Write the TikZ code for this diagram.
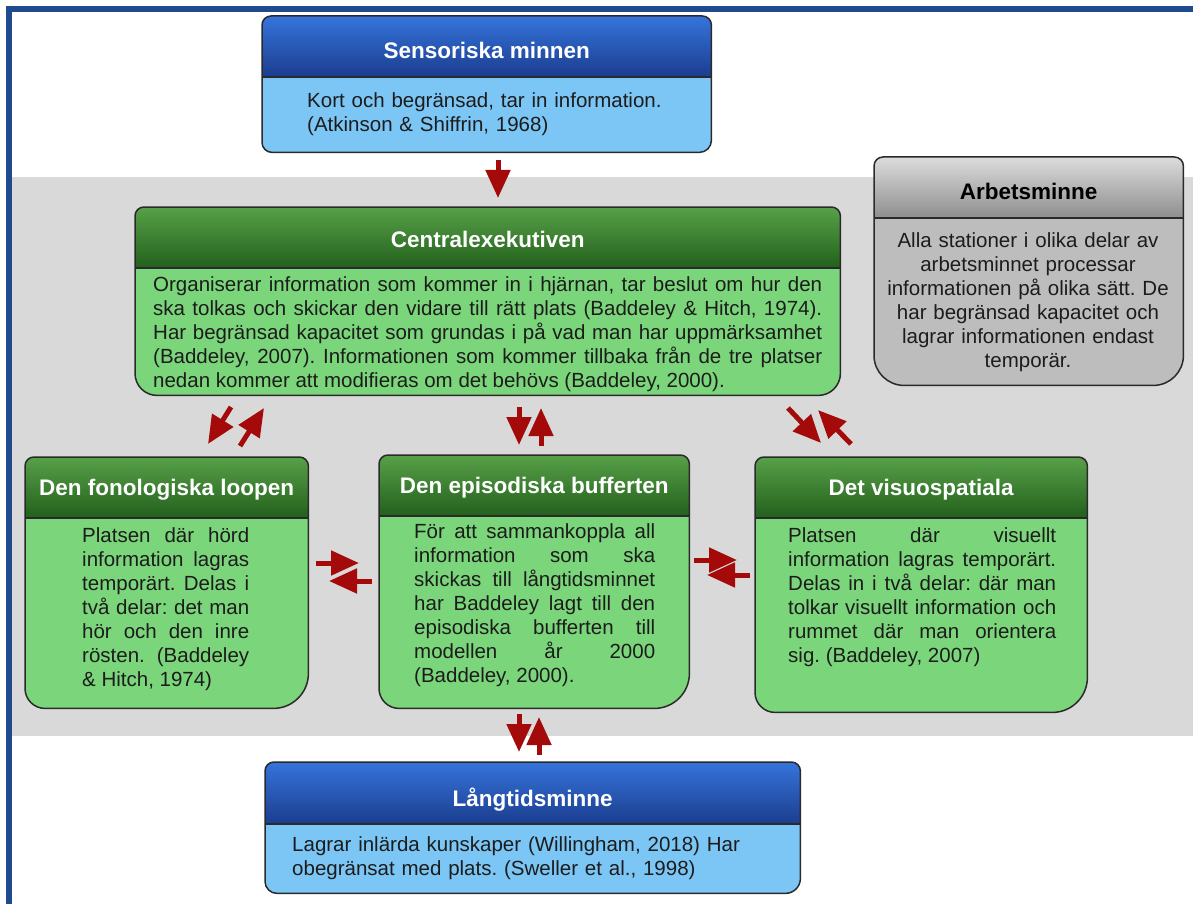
\documentclass[tikz,border=0pt]{standalone}
\usepackage{fontspec}
\setmainfont{Liberation Sans}
\usetikzlibrary{arrows.meta}
\setlength{\parindent}{0pt}
\frenchspacing

\definecolor{frameblue}{HTML}{1F4B8E}
\definecolor{bandgray}{HTML}{D9D9D9}
\definecolor{arrowred}{HTML}{A50A0A}
\definecolor{textdark}{HTML}{1C1C1C}
\definecolor{linedark}{HTML}{2A2A2A}
\definecolor{bluebodyc}{HTML}{7CC6F6}
\definecolor{blueheadtop}{HTML}{3574DC}
\definecolor{blueheadbot}{HTML}{1B3D8E}
\definecolor{greenbodyc}{HTML}{7BD67B}
\definecolor{greenheadtop}{HTML}{58A048}
\definecolor{greenheadbot}{HTML}{22601C}
\definecolor{graybodyc}{HTML}{BDBDBD}
\definecolor{grayheadtop}{HTML}{DCDCDC}
\definecolor{grayheadbot}{HTML}{8E8E8E}

\tikzset{
  memarea/.style={rectangle, inner sep=0pt, anchor=north west},
  boxtitle/.style={anchor=base, inner sep=0pt, text=white,
    font=\fontsize{22.5}{26}\selectfont\bfseries},
  boxtext/.style={anchor=north west, inner sep=0pt, text=textdark,
    font=\fontsize{20.5}{24}\selectfont},
  boxline/.style={draw=linedark, line width=1.5pt},
  bluebody/.style={fill=bluebodyc},
  bluehead/.style={top color=blueheadtop, bottom color=blueheadbot},
  greenbody/.style={fill=greenbodyc},
  greenhead/.style={top color=greenheadtop, bottom color=greenheadbot},
  graybody/.style={fill=graybodyc},
  grayhead/.style={top color=grayheadtop, bottom color=grayheadbot},
  flow/.style={draw=arrowred, line width=5pt, -{Triangle[length=28pt,width=24pt]}},
}

% box: node, header height, colour set, bottom right radius, bottom left radius
\newcommand{\drawmembox}[5]{%
  \def\membox{(#1.north) [rounded corners=9pt] -- (#1.north east) -- (#1.east)
    [rounded corners=#4] -- (#1.south east) -- (#1.south)
    [rounded corners=#5] -- (#1.south west) -- (#1.west)
    [rounded corners=9pt] -- (#1.north west) -- cycle}%
  \fill[#3body] \membox;
  \begin{scope}
    \clip \membox;
    \shade[#3head] (#1.north west) rectangle ([yshift=-#2]#1.north east);
  \end{scope}
  \draw[boxline] ([yshift=-#2]#1.north west) -- ([yshift=-#2]#1.north east);
  \draw[boxline] \membox;
}

\begin{document}
\begin{tikzpicture}[x=1pt,y=-1pt]

  \useasboundingbox (0,0) rectangle (1193,904);
  \fill[white] (0,0) rectangle (1193,904);

  % frame and working memory band
  \fill[bandgray] (12,177) rectangle (1193,736);
  \draw[frameblue, line width=6pt] (9,904) -- (9,9) -- (1193,9);

  \begin{scope}[every node/.style={memarea}]
    \node[minimum width=449, minimum height=136] (senso)   at (262,16)  {};
    \node[minimum width=705, minimum height=188] (central) at (135,207) {};
    \node[minimum width=309, minimum height=228] (arbets)  at (874,157) {};
    \node[minimum width=283, minimum height=251] (fono)    at (25,457)  {};
    \node[minimum width=310, minimum height=253] (episod)  at (379,455) {};
    \node[minimum width=332, minimum height=255] (visuo)   at (755,457) {};
    \node[minimum width=535, minimum height=131] (lang)    at (265,762) {};
  \end{scope}

  \drawmembox{senso}{61}{blue}{12}{10}
  \drawmembox{central}{61}{green}{22}{22}
  \drawmembox{arbets}{61}{gray}{30}{30}
  \drawmembox{fono}{61}{green}{35}{20}
  \drawmembox{episod}{61}{green}{35}{20}
  \drawmembox{visuo}{61}{green}{35}{20}
  \drawmembox{lang}{62}{blue}{15}{12}

  % titles
  \node[boxtitle] (senso-title)   at ([yshift=-43]senso.north)   {Sensoriska minnen};
  \node[boxtitle] (central-title) at ([yshift=-40]central.north) {Centralexekutiven};
  \node[boxtitle, text=black] (arbets-title) at ([yshift=-43]arbets.north) {Arbetsminne};
  \node[boxtitle] (fono-title)    at ([yshift=-38]fono.north)    {Den fonologiska loopen};
  \node[boxtitle] (episod-title)  at ([yshift=-38]episod.north)  {Den episodiska bufferten};
  \node[boxtitle] (visuo-title)   at ([yshift=-38]visuo.north)   {Det visuospatiala};
  \node[boxtitle] (lang-title)    at ([yshift=-44]lang.north)    {Långtidsminne};

  % texts
  \node[boxtext, text width=400, align=left] (senso-text) at (307,92)
    {Kort och begränsad, tar in information.\\(Atkinson \& Shiffrin, 1968)};
  \node[boxtext, text width=669, align=justify] (central-text) at (153,276)
    {Organiserar information som kommer in i hjärnan, tar beslut om hur den\linebreak
     ska tolkas och skickar den vidare till rätt plats (Baddeley \& Hitch, 1974).\linebreak
     Har begränsad kapacitet som grundas i på vad man har uppmärksamhet\linebreak
     (Baddeley, 2007). Informationen som kommer tillbaka från de tre platser\linebreak
     nedan kommer att modifieras om det behövs (Baddeley, 2000).};
  \node[boxtext, anchor=north, text width=300, align=center] (arbets-text) at (1028,232)
    {Alla stationer i olika delar av\\arbetsminnet processar\\informationen på olika sätt. De\\
     har begränsad kapacitet och\\lagrar informationen endast\\temporär.};
  \node[boxtext, text width=167, align=justify] (fono-text) at (82,527)
    {Platsen där hörd\linebreak information lagras\linebreak temporärt. Delas i\linebreak
     två delar: det man\linebreak hör och den inre\linebreak rösten. (Baddeley\linebreak
     \& Hitch, 1974)};
  \node[boxtext, text width=241, align=justify] (episod-text) at (414,523)
    {För att sammankoppla all\linebreak information som ska\linebreak
     skickas till långtidsminnet\linebreak har Baddeley lagt till den\linebreak
     episodiska bufferten till\linebreak modellen år 2000\linebreak (Baddeley, 2000).};
  \node[boxtext, text width=268, align=justify] (visuo-text) at (788,527)
    {Platsen där visuellt\linebreak information lagras temporärt.\linebreak
     Delas in i två delar: där man\linebreak tolkar visuellt information och\linebreak
     rummet där man orientera\linebreak sig. (Baddeley, 2007)};
  \node[boxtext, text width=480, align=left] (lang-text) at (292,836)
    {Lagrar inlärda kunskaper (Willingham, 2018) Har\\obegränsat med plats. (Sweller et al., 1998)};

  % arrow ends
  \coordinate (sc1) at (498,160);  \coordinate (sc2) at (498,198);
  \coordinate (cf1) at (231,407);  \coordinate (cf2) at (208,444);
  \coordinate (fc1) at (240,446);  \coordinate (fc2) at (264,408);
  \coordinate (ce1) at (519,407);  \coordinate (ce2) at (519,445);
  \coordinate (ec1) at (541,446);  \coordinate (ec2) at (541,408);
  \coordinate (cv1) at (788,408);  \coordinate (cv2) at (821,443);
  \coordinate (vc1) at (851,444);  \coordinate (vc2) at (818,410);
  \coordinate (fe1) at (316,563);  \coordinate (fe2) at (359,563);
  \coordinate (ef1) at (372,581);  \coordinate (ef2) at (329,581);
  \coordinate (ev1) at (694,560);  \coordinate (ev2) at (737,560);
  \coordinate (ve1) at (750,575);  \coordinate (ve2) at (707,575);
  \coordinate (el1) at (519,714);  \coordinate (el2) at (519,752);
  \coordinate (le1) at (539,755);  \coordinate (le2) at (539,717);

  \path (sc1) edge[flow] (sc2);
  \path (cf1) edge[flow] (cf2);
  \path (fc1) edge[flow] (fc2);
  \path (ce1) edge[flow] (ce2);
  \path (ec1) edge[flow] (ec2);
  \path (cv1) edge[flow] (cv2);
  \path (vc1) edge[flow] (vc2);
  \path (fe1) edge[flow] (fe2);
  \path (ef1) edge[flow] (ef2);
  \path (ev1) edge[flow] (ev2);
  \path (ve1) edge[flow] (ve2);
  \path (el1) edge[flow] (el2);
  \path (le1) edge[flow] (le2);

\end{tikzpicture}
\end{document}
